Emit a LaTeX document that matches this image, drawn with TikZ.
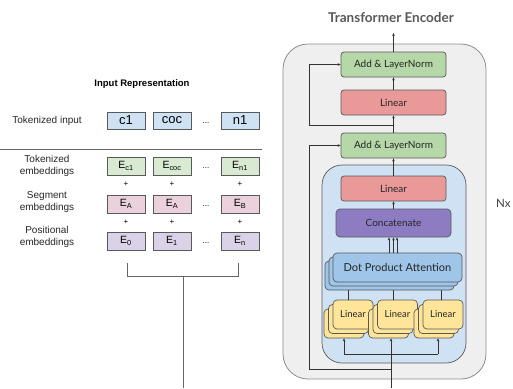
\documentclass[tikz,border=0pt]{standalone}
\usepackage{fontspec}
\setmainfont{Liberation Sans}
\newfontfamily\lato{Lato}
\usetikzlibrary{arrows.meta,positioning,calc}
\definecolor{cBlue}{HTML}{CFE2F3}
\definecolor{cGreen}{HTML}{D9EAD3}
\definecolor{cPink}{HTML}{EAD1DC}
\definecolor{cPurple}{HTML}{D9D2E9}
\definecolor{edge}{HTML}{595959}
\definecolor{encbg}{HTML}{EFEFEF}
\definecolor{encedge}{HTML}{8C8C8C}
\definecolor{lnGreen}{HTML}{B6D7A8}
\definecolor{linRed}{HTML}{EA9999}
\definecolor{catPurple}{HTML}{8E7CC3}
\definecolor{dpaBlue}{HTML}{9FC5E8}
\definecolor{linYellow}{HTML}{FFE599}
\definecolor{titlegray}{HTML}{595959}
\definecolor{conn}{HTML}{333333}
\begin{document}
\begin{tikzpicture}[x=1pt,y=-1pt,
  tokin/.style={draw=edge, line width=0.7pt, minimum width=38pt, minimum height=17pt, inner sep=0pt, font=\fontsize{13}{15}\selectfont},
  ebox/.style={draw=edge, line width=0.7pt, minimum width=38pt, minimum height=18pt, inner sep=0pt, font=\fontsize{10.5}{12}\selectfont},
  lbl/.style={align=center, font=\fontsize{10}{12.5}\selectfont, text=black!85},
  dotsnode/.style={font=\fontsize{8}{10}\selectfont, inner sep=0pt},
  plusnode/.style={font=\fontsize{8}{10}\selectfont, inner sep=0pt},
  rbox/.style={draw=edge, line width=0.7pt, rounded corners=3pt, inner sep=0pt, font=\lato\fontsize{10}{11}\selectfont, text=black!85},
  ln/.style={draw=conn, line width=0.6pt},
  arr/.style={draw=conn, line width=0.6pt, -{Stealth[length=3pt,width=2.6pt]}}
]
\useasboundingbox (0,0) rectangle (513,388);

% ---------------- Left: input representation
\node[font=\bfseries\fontsize{9.5}{11}\selectfont] (irtitle) at (142,84) {Input Representation};

\node[lbl] (lab1) at (47,121) {Tokenized input};
\node[lbl] (lab2) at (47,166) {Tokenized\\embeddings};
\node[lbl] (lab3) at (47,202) {Segment\\embeddings};
\node[lbl] (lab4) at (47,237) {Positional\\embeddings};

\node[tokin, fill=cBlue] (t1) at (126,120.5) {c1};
\node[tokin, fill=cBlue] (t2) at (172,120.5) {coc};
\node[dotsnode] (td) at (206,123) {...};
\node[tokin, fill=cBlue] (t3) at (240,120.5) {n1};

\coordinate (sepl) at (0,149);
\coordinate (sepr) at (262,149);
\draw[draw=black!60, line width=0.7pt] (sepl) -- (sepr);

\node[ebox, fill=cGreen] (e1) at (126,166) {E\textsubscript{c1}};
\node[ebox, fill=cGreen] (e2) at (172,166) {E\textsubscript{coc}};
\node[dotsnode] (ed) at (206,168) {...};
\node[ebox, fill=cGreen] (e3) at (240,166) {E\textsubscript{n1}};

\node[plusnode] (pa1) at (126,184.5) {+};
\node[plusnode] (pa2) at (172,184.5) {+};
\node[plusnode] (pa3) at (240,184.5) {+};

\node[ebox, fill=cPink] (s1) at (126,204) {E\textsubscript{A}};
\node[ebox, fill=cPink] (s2) at (172,204) {E\textsubscript{A}};
\node[dotsnode] (sd) at (206,206) {...};
\node[ebox, fill=cPink] (s3) at (240,204) {E\textsubscript{B}};

\node[plusnode] (pb1) at (126,222.5) {+};
\node[plusnode] (pb2) at (172,222.5) {+};
\node[plusnode] (pb3) at (240,222.5) {+};

\node[ebox, fill=cPurple] (q1) at (126,241) {E\textsubscript{0}};
\node[ebox, fill=cPurple] (q2) at (172,241) {E\textsubscript{1}};
\node[dotsnode] (qd) at (206,243) {...};
\node[ebox, fill=cPurple] (q3) at (240,241) {E\textsubscript{n}};

\coordinate (bl) at (127,263);
\coordinate (blb) at (127,276);
\coordinate (br) at (238,263);
\coordinate (brb) at (238,276);
\coordinate (bm) at (183,276);
\coordinate (bout) at (183,388);
\draw[draw=black!60, line width=0.7pt] (bl) -- (blb) -- (brb) -- (br);
\draw[draw=black!60, line width=0.7pt] (bm) -- (bout);

% ---------------- Right: transformer encoder
\node[font=\lato\bfseries\fontsize{13.5}{15}\selectfont, text=titlegray] (enc) at (391,18) {Transformer Encoder};

\node[draw=encedge, line width=0.8pt, fill=encbg, rounded corners=25pt, minimum width=203pt, minimum height=335pt, inner sep=0pt] (outer) at (384.5,211.5) {};
\node[draw=edge, line width=0.7pt, fill=cBlue, rounded corners=20pt, minimum width=144pt, minimum height=198pt, inner sep=0pt] (inner) at (394,264) {};

\node[rbox, fill=lnGreen, minimum width=105pt, minimum height=25pt] (aln1) at (393.5,64.5) {Add \& LayerNorm};
\node[rbox, fill=linRed, minimum width=105pt, minimum height=25pt] (lin1) at (393.5,102.5) {Linear};
\node[rbox, fill=lnGreen, minimum width=105pt, minimum height=25pt] (aln2) at (393.5,145.5) {Add \& LayerNorm};
\node[rbox, fill=linRed, minimum width=105pt, minimum height=25pt] (lin2) at (393.5,188.5) {Linear};
\node[rbox, fill=catPurple, rounded corners=4pt, minimum width=115pt, minimum height=28pt] (cat) at (393.5,223) {Concatenate};

\node[rbox, fill=dpaBlue, rounded corners=4pt, minimum width=129pt, minimum height=29pt] (dpa3) at (389.5,275.5) {};
\node[rbox, fill=dpaBlue, rounded corners=4pt, minimum width=129pt, minimum height=29pt] (dpa2) at (393.5,271.5) {};
\node[rbox, fill=dpaBlue, rounded corners=4pt, minimum width=129pt, minimum height=29pt, font=\lato\fontsize{11}{13}\selectfont] (dpa) at (397.5,267.5) {Dot Product Attention};

\foreach \n/\cx in {1/353,2/397.5,3/443}{
  \node[rbox, fill=linYellow, rounded corners=4pt, minimum width=40pt, minimum height=29pt] (l\n c) at (\cx-9,323.5) {};
  \node[rbox, fill=linYellow, rounded corners=4pt, minimum width=40pt, minimum height=29pt] (l\n b) at (\cx-4.5,319) {};
  \node[rbox, fill=linYellow, rounded corners=4pt, minimum width=40pt, minimum height=29pt, font=\lato\fontsize{9.5}{11}\selectfont] (l\n) at (\cx,314.5) {Linear};
}

% main vertical flow
\coordinate (out) at (393.5,33);
\draw[arr] (aln1.north) -- (out);
\draw[arr] (lin1.north) -- (aln1.south);
\draw[arr] (aln2.north) -- (lin1.south);
\draw[arr] (lin2.north) -- (aln2.south);
\draw[arr] (cat.north) -- (lin2.south);
\draw[arr] ([xshift=-4.5pt]cat.south |- dpa.north) -- ([xshift=-4.5pt]cat.south);
\draw[arr] (cat.south |- dpa.north) -- (cat.south);
\draw[arr] ([xshift=3.5pt]cat.south |- dpa.north) -- ([xshift=3.5pt]cat.south);

% DPA to linear stacks
\draw[ln] (l1b.north |- dpa3.south) -- (l1b.north |- l1.north);
\draw[ln] (l2b.north |- dpa3.south) -- (l2b.north |- l2.north);
\draw[ln] ([xshift=2.5pt]l3b.north |- dpa3.south) -- ([xshift=2.5pt]l3b.north |- l3.north);

% inputs
\coordinate (inp) at (391,388);
\coordinate (hl) at (344,354);
\coordinate (hr) at (438,354);
\draw[arr] (inp) -- (inp |- l2c.south);
\draw[ln] (hl) -- (hr);
\draw[arr] (hl) -- (hl |- l1c.south);
\draw[arr] (hr) -- (hr |- l3c.south);

% residual connections
\coordinate (j1) at (393.5,125);
\coordinate (k1) at (309,125);
\draw[arr] (j1) -- (k1) |- (aln1.west);
\coordinate (j2) at (391,369);
\coordinate (k2) at (309,369);
\draw[arr] (j2) -- (k2) |- (aln2.west);

\node[anchor=west, inner sep=0pt, font=\lato\fontsize{11.5}{13}\selectfont, text=black!75] (nx) at (496,203) {Nx};
\end{tikzpicture}
\end{document}
